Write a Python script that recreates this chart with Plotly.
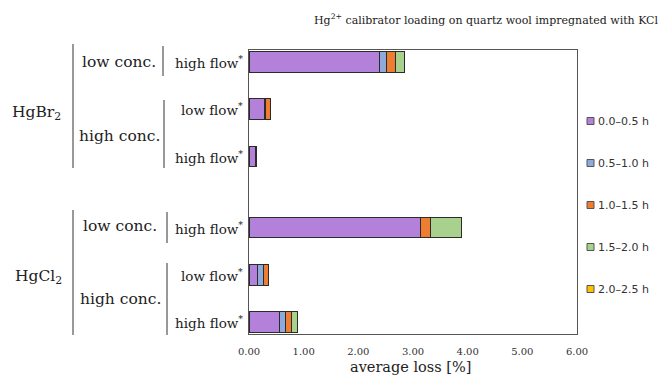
import plotly.graph_objects as go

# ---- data ----
row_pos = [0, 1, 2, 3.5, 4.5, 5.5]          # category slots (top to bottom)
flow_labels = ["high flow", "low flow", "high flow", "high flow", "low flow", "high flow"]
series_names = ["0.0–0.5 h", "0.5–1.0 h", "1.0–1.5 h", "1.5–2.0 h", "2.0–2.5 h"]
s_00_05 = [2.38, 0.29, 0.11, 3.13, 0.15, 0.55]
s_05_10 = [0.135, 0.02, 0.03, 0.0, 0.12, 0.12]
s_10_15 = [0.157, 0.08, 0.0, 0.19, 0.08, 0.10]
s_15_20 = [0.177, 0.01, 0.0, 0.57, 0.0, 0.11]
s_20_25 = [0.0, 0.0, 0.0, 0.0, 0.0, 0.0]
colors = ["#b381d9", "#8eaadb", "#ed7d31", "#a9d18e", "#ffc000"]
x_ticks = [0, 1, 2, 3, 4, 5, 6]

# ---- layout geometry (pixels) ----
W, H = 662, 383
L, R, T, B = 249, 85, 50, 49
PW, PH = W - L - R, H - T - B

def px_x(px):
    return (px - L) / PW

def px_y(py):
    return 1 - (py - T) / PH

fig = go.Figure()
for name, vals, col in zip(series_names, [s_00_05, s_05_10, s_10_15, s_15_20, s_20_25], colors):
    fig.add_trace(go.Bar(
        x=vals, y=row_pos, orientation="h", name=name, showlegend=False,
        marker=dict(color=col, line=dict(color="#2b2b2b", width=1)),
        width=0.44,
    ))

SERIF = "DejaVu Serif, serif"
ann = []
shapes = []
# flow labels
for y, lab in zip(row_pos, flow_labels):
    ann.append(dict(x=px_x(245), y=y, xref="paper", yref="y", xanchor="right", yanchor="middle",
                    text=lab + "<sup>*</sup>", showarrow=False,
                    font=dict(family=SERIF, size=13.5, color="#222")))

def lab(px, py, text, size):
    ann.append(dict(x=px_x(px), y=px_y(py), xref="paper", yref="paper", xanchor="center",
                    yanchor="middle", text=text, showarrow=False,
                    font=dict(family=SERIF, size=size, color="#222")))

lab(119, 62, "low conc.", 15.5)
lab(119, 136, "high conc.", 15.5)
lab(120, 226, "low conc.", 15.5)
lab(120, 299, "high conc.", 15.5)
lab(36, 113, "HgBr<sub>2</sub>", 15.5)
lab(38, 277, "HgCl<sub>2</sub>", 15.5)

# title and axis title as annotations
ann.append(dict(x=px_x(486), y=px_y(20), xref="paper", yref="paper", xanchor="center",
                yanchor="middle", showarrow=False,
                text="Hg<sup>2+</sup> calibrator loading on quartz wool impregnated with KCl",
                font=dict(family=SERIF, size=11, color="#222")))
ann.append(dict(x=px_x(410), y=px_y(367), xref="paper", yref="paper", xanchor="center",
                yanchor="middle", showarrow=False, text="average loss [%]",
                font=dict(family=SERIF, size=14.5, color="#222")))

# legend (drawn manually to match spacing)
for i, (name, col) in enumerate(zip(series_names, colors)):
    cy = 121 + 42 * i
    shapes.append(dict(type="rect", xref="paper", yref="paper",
                       x0=px_x(587), x1=px_x(594), y0=px_y(cy - 3.5), y1=px_y(cy + 3.5),
                       fillcolor=col, line=dict(color="#555", width=1)))
    ann.append(dict(x=px_x(596), y=px_y(cy), xref="paper", yref="paper", xanchor="left",
                    yanchor="middle", showarrow=False, text=name,
                    font=dict(family="DejaVu Sans, sans-serif", size=11, color="#333")))

def vline(px, y0, y1):
    shapes.append(dict(type="line", xref="paper", yref="paper", x0=px_x(px), x1=px_x(px),
                       y0=px_y(y0), y1=px_y(y1), line=dict(color="#333", width=1)))

vline(163, 46, 76)
vline(164, 100, 168)
vline(167, 212, 243)
vline(167, 263, 335)
vline(73, 44, 168)
vline(73, 210, 335)

fig.update_layout(
    width=W, height=H,
    margin=dict(l=L, r=R, t=T, b=B, autoexpand=False),
    barmode="stack",
    plot_bgcolor="white", paper_bgcolor="white",
    font=dict(family=SERIF),
    annotations=ann, shapes=shapes,
    xaxis=dict(range=[0, 6], tickvals=x_ticks, ticktext=[f"{v:.2f}" for v in x_ticks],
               showgrid=False, zeroline=False, showline=True, mirror=True,
               linecolor="#555", linewidth=1, ticks="", ticklabelstandoff=8,
               tickfont=dict(family=SERIF, size=10, color="#333")),
    yaxis=dict(range=[5.75, -0.25], showticklabels=False, showgrid=False, zeroline=False,
               showline=True, mirror=True, linecolor="#555", linewidth=1, ticks=""),
    showlegend=False,
)

fig.write_html("out.html")
